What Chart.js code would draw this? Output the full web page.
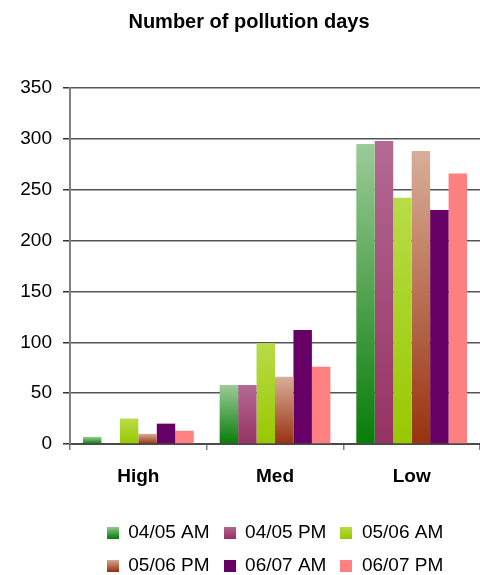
<!DOCTYPE html>
<html>
<head>
<meta charset="utf-8">
<script src="https://cdn.jsdelivr.net/npm/chart.js@4/dist/chart.umd.min.js"></script>
<style>
  html, body { margin: 0; padding: 0; background: #ffffff; }
  canvas { display: block; }
</style>
</head>
<body>
<canvas id="chart" width="480" height="575"></canvas>
<script>
// Pollution level categories and the six monitoring periods
const categories = ['High', 'Med', 'Low'];
const seriesNames = ['04/05 AM', '04/05 PM', '05/06 AM', '05/06 PM', '06/07 AM', '06/07 PM'];

// Number of days per level for each period
const am0405 = [7, 58, 295];
const pm0405 = [0, 58, 298];
const am0506 = [25, 99, 242];
const pm0506 = [10, 66, 288];
const am0607 = [20, 112, 230];
const pm0607 = [13, 76, 266];

// Value axis
const yMin = 0;
const yMax = 350;
const yStep = 50;

// Fill colours per series: [top, bottom] of a vertical gradient
const seriesColors = [
  ['#9ccb98', '#087c08'],
  ['#b46a95', '#963262'],
  ['#b8dc48', '#98c800'],
  ['#d9ae99', '#983210'],
  ['#660066', '#660066'],
  ['#ff8080', '#ff8080']
];

const FONT = "'Liberation Sans', Arial, Helvetica, sans-serif";

// Gradient that runs from the top of each bar down to its base
function barFill(top, bottom) {
  return (ctx) => {
    if (top === bottom) return top;
    const chart = ctx.chart;
    const y = chart.scales && chart.scales.y;
    if (!y || ctx.type !== 'data' || !ctx.parsed) return bottom;
    const yTop = y.getPixelForValue(ctx.parsed.y);
    const yBase = y.getPixelForValue(0);
    if (!isFinite(yTop) || !isFinite(yBase) || Math.abs(yBase - yTop) < 1) return bottom;
    const g = chart.ctx.createLinearGradient(0, yTop, 0, yBase);
    g.addColorStop(0, top);
    g.addColorStop(1, bottom);
    return g;
  };
}

// Small gradient square used as the legend swatch
function swatch(top, bottom) {
  const c = document.createElement('canvas');
  c.width = 12;
  c.height = 12;
  const x = c.getContext('2d');
  const g = x.createLinearGradient(0, 0, 0, 12);
  g.addColorStop(0, top);
  g.addColorStop(1, bottom);
  x.fillStyle = g;
  x.fillRect(0, 0, 12, 12);
  return c;
}

const seriesValues = [am0405, pm0405, am0506, pm0506, am0607, pm0607];

const datasets = seriesNames.map((name, i) => ({
  label: name,
  data: seriesValues[i],
  backgroundColor: barFill(seriesColors[i][0], seriesColors[i][1]),
  borderWidth: 0,
  pointStyle: swatch(seriesColors[i][0], seriesColors[i][1]),
  categoryPercentage: 0.81,
  barPercentage: 1.0
}));

new Chart(document.getElementById('chart'), {
  type: 'bar',
  data: { labels: categories, datasets },
  options: {
    responsive: false,
    animation: false,
    layout: { padding: { left: 18, right: 0, top: 0, bottom: -10 } },
    plugins: {
      tooltip: { enabled: false },
      title: {
        display: true,
        text: 'Number of pollution days',
        color: '#000000',
        font: { family: FONT, size: 20, weight: 'bold' },
        padding: { top: 10, bottom: 54 }
      },
      legend: {
        position: 'bottom',
        fullSize: false,
        labels: {
          usePointStyle: true,
          boxWidth: 12,
          boxHeight: 12,
          padding: 14,
          color: '#000000',
          font: { family: FONT, size: 19 }
        }
      }
    },
    scales: {
      x: {
        offset: true,
        afterFit: (s) => { s.height = 65; },
        grid: {
          display: true,
          drawOnChartArea: false,
          tickLength: 6,
          color: '#808080',
          lineWidth: 1.5
        },
        border: { display: true, color: '#4a4a4a', width: 2 },
        ticks: {
          color: '#000000',
          padding: 15,
          font: { family: FONT, size: 19, weight: 'bold' }
        }
      },
      y: {
        min: yMin,
        max: yMax,
        afterFit: (s) => { s.width = 52; },
        grid: {
          color: '#555555',
          lineWidth: 1.5,
          tickLength: 7,
          tickColor: '#333333'
        },
        border: { display: true, color: '#808080', width: 2 },
        ticks: {
          stepSize: yStep,
          color: '#000000',
          padding: 11,
          font: { family: FONT, size: 19 }
        }
      }
    }
  }
});
</script>
</body>
</html>
